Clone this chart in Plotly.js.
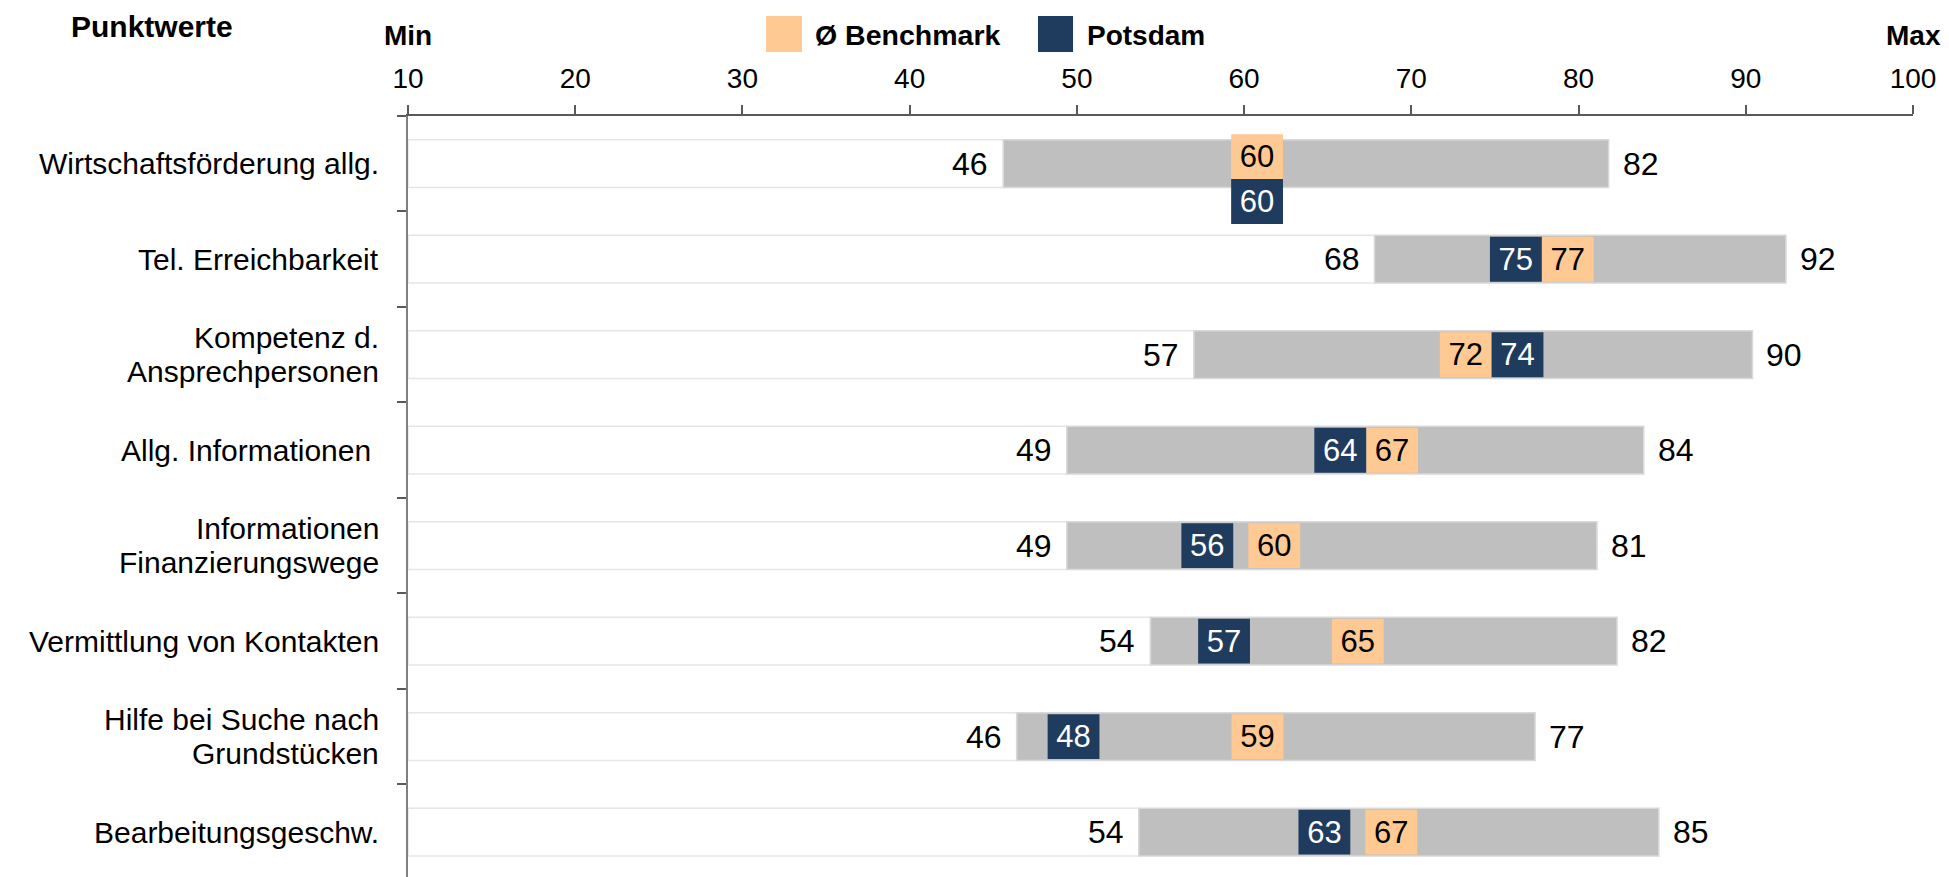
<!DOCTYPE html>
<html>
<head>
<meta charset="utf-8">
<script src="https://cdn.plot.ly/plotly-3.0.1.min.js"></script>
<style>
  html, body { margin: 0; padding: 0; background: #ffffff; }
  #chart { width: 1949px; height: 877px; }
</style>
</head>
<body>
<div id="chart"></div>
<script>
// ---- data ----
const categories = [
  'Wirtschaftsförderung allg.',
  'Tel. Erreichbarkeit',
  'Kompetenz d.<br>Ansprechpersonen',
  'Allg. Informationen\u00a0',
  'Informationen<br>Finanzierungswege',
  'Vermittlung von Kontakten',
  'Hilfe bei Suche nach<br>Grundstücken',
  'Bearbeitungsgeschw.'
];
const minValues = [45.6, 67.8, 57.0, 49.4, 49.4, 54.4, 46.4, 53.7];
const maxValues = [81.8, 92.4, 90.4, 83.9, 81.1, 82.3, 77.4, 84.8];
const benchmark = [60, 77, 72, 67, 60, 65, 59, 67];
const potsdam   = [60, 75, 74, 64, 56, 57, 48, 63];
const xTickValues = [10, 20, 30, 40, 50, 60, 70, 80, 90, 100];
const legendNames = ['Ø Benchmark', 'Potsdam'];

// ---- style ----
const FONT = '"Liberation Sans", Arial, Helvetica, sans-serif';
const C_GRAY = '#BFBFBF';
const C_BENCH = '#FFC993';
const C_POTS = '#1F3B5E';
const BOX_W = 3.1;      // width of value boxes (axis units)
const BOX_H = 0.47;     // thickness of value boxes (category units)
const BOX_SHIFT = 0.25; // small offset of box left edge from value
const BAR_H = 0.5;      // thickness of range bars
const AXIS_MIN = 10;
const CAT_FONT = 30;
const CAT_LINE = 34;    // line spacing of wrapped category labels (px)

// place value boxes: left edge at value, pushed apart if they collide;
// equal values are stacked vertically
const benchBase = [], potsBase = [], benchOff = [], potsOff = [];
for (let i = 0; i < categories.length; i++) {
  const b = benchmark[i], p = potsdam[i];
  if (b === p) {
    benchBase.push(b - BOX_W / 4); potsBase.push(p - BOX_W / 4);
    benchOff.push(-0.31); potsOff.push(0.16);
  } else {
    const lo = Math.min(b, p) + BOX_SHIFT, hi = Math.max(b, p) + BOX_SHIFT;
    const overlap = Math.max(0, lo + BOX_W - hi);
    const loBase = lo - overlap / 2, hiBase = hi + overlap / 2;
    benchBase.push(b < p ? loBase : hiBase);
    potsBase.push(p < b ? loBase : hiBase);
    benchOff.push(-BOX_H / 2); potsOff.push(-BOX_H / 2);
  }
}

const traces = [
  { // white lead-in segment from axis start to min
    type: 'bar', orientation: 'h', y: categories,
    base: categories.map(() => AXIS_MIN),
    x: minValues.map(v => v - AXIS_MIN),
    width: BAR_H,
    marker: { color: '#ffffff', line: { color: '#E6E6E6', width: 1.5 } },
    hoverinfo: 'skip', showlegend: false
  },
  { // range min..max
    type: 'bar', orientation: 'h', y: categories,
    base: minValues,
    x: maxValues.map((v, i) => v - minValues[i]),
    width: BAR_H,
    marker: { color: C_GRAY, line: { color: '#D9D9D9', width: 1.5 } },
    hoverinfo: 'skip', showlegend: false
  },
  {
    type: 'bar', orientation: 'h', name: legendNames[0], y: categories,
    base: benchBase, x: benchmark.map(() => BOX_W),
    width: BOX_H, offset: benchOff,
    marker: { color: C_BENCH, line: { width: 0 } },
    text: benchmark.map(String), textposition: 'inside', insidetextanchor: 'middle',
    constraintext: 'none', textangle: 0,
    textfont: { family: FONT, size: 31, color: '#000000' },
    hoverinfo: 'skip', showlegend: false
  },
  {
    type: 'bar', orientation: 'h', name: legendNames[1], y: categories,
    base: potsBase, x: potsdam.map(() => BOX_W),
    width: BOX_H, offset: potsOff,
    marker: { color: C_POTS, line: { width: 0 } },
    text: potsdam.map(String), textposition: 'inside', insidetextanchor: 'middle',
    constraintext: 'none', textangle: 0,
    textfont: { family: FONT, size: 31, color: '#ffffff' },
    hoverinfo: 'skip', showlegend: false
  }
];

const annotations = [];
for (let i = 0; i < categories.length; i++) {
  // category labels (tight line spacing for wrapped labels)
  const lines = categories[i].split('<br>');
  lines.forEach((ln, k) => {
    annotations.push({
      x: 0, y: categories[i], xref: 'paper', yref: 'y',
      text: ln, showarrow: false, xanchor: 'right', yanchor: 'middle',
      xshift: -28, yshift: ((lines.length - 1) / 2 - k) * CAT_LINE, borderpad: 0,
      font: { family: FONT, size: CAT_FONT, color: '#000000' }
    });
  });
  annotations.push({
    x: minValues[i], y: categories[i], xref: 'x', yref: 'y',
    text: String(Math.round(minValues[i])), showarrow: false,
    xanchor: 'right', yanchor: 'middle', xshift: -13,
    font: { family: FONT, size: 32, color: '#000000' }
  });
  annotations.push({
    x: maxValues[i], y: categories[i], xref: 'x', yref: 'y',
    text: String(Math.round(maxValues[i])), showarrow: false,
    xanchor: 'left', yanchor: 'middle', xshift: 12,
    font: { family: FONT, size: 32, color: '#000000' }
  });
}
// header texts
annotations.push({ x: -0.170, y: 1.118, xref: 'paper', yref: 'paper', text: '<b>Punktwerte</b>',
  showarrow: false, xanchor: 'center', yanchor: 'middle', font: { family: FONT, size: 30, color: '#000' } });
annotations.push({ x: xTickValues[0], y: 1.106, xref: 'x', yref: 'paper', text: '<b>Min</b>',
  showarrow: false, xanchor: 'center', yanchor: 'middle', font: { family: FONT, size: 28, color: '#000' } });
annotations.push({ x: xTickValues[xTickValues.length - 1], y: 1.106, xref: 'x', yref: 'paper', text: '<b>Max</b>',
  showarrow: false, xanchor: 'center', yanchor: 'middle', font: { family: FONT, size: 28, color: '#000' } });
// legend labels
annotations.push({ x: 0.2691, y: 1.106, xref: 'paper', yref: 'paper', text: '<b>' + legendNames[0] + '</b>',
  showarrow: false, xanchor: 'left', yanchor: 'middle', font: { family: FONT, size: 28.5, color: '#000' } });
annotations.push({ x: 0.4498, y: 1.106, xref: 'paper', yref: 'paper', text: '<b>' + legendNames[1] + '</b>',
  showarrow: false, xanchor: 'left', yanchor: 'middle', font: { family: FONT, size: 28, color: '#000' } });

const shapes = [
  { type: 'rect', xref: 'paper', yref: 'paper', x0: 0.2379, x1: 0.2618, y0: 1.0841, y1: 1.1314,
    fillcolor: C_BENCH, line: { width: 0 } },
  { type: 'rect', xref: 'paper', yref: 'paper', x0: 0.4186, x1: 0.4419, y0: 1.0841, y1: 1.1314,
    fillcolor: C_POTS, line: { width: 0 } }
];

const layout = {
  width: 1949, height: 877,
  margin: { l: 408, r: 36, t: 116, b: 0, pad: 0 },
  paper_bgcolor: '#ffffff', plot_bgcolor: '#ffffff',
  barmode: 'overlay',
  showlegend: false,
  font: { family: FONT, color: '#000000' },
  xaxis: {
    side: 'top', range: [10, 100], tickvals: xTickValues,
    showgrid: false, zeroline: false,
    showline: true, linecolor: '#595959', linewidth: 2,
    ticks: 'outside', ticklen: 9, tickcolor: '#595959', tickwidth: 1.5,
    ticklabelstandoff: 6,
    tickfont: { family: FONT, size: 28, color: '#000000' },
    fixedrange: true
  },
  yaxis: {
    type: 'category', categoryorder: 'array', categoryarray: categories,
    range: [7.47, -0.5],
    showgrid: false, zeroline: false,
    showline: true, linecolor: '#7F7F7F', linewidth: 2,
    ticks: 'outside', tickson: 'boundaries', ticklen: 9, tickcolor: '#595959', tickwidth: 1.5,
    showticklabels: false,
    fixedrange: true
  },
  annotations: annotations,
  shapes: shapes
};

Plotly.newPlot('chart', traces, layout, { displayModeBar: false, responsive: false });
</script>
</body>
</html>
